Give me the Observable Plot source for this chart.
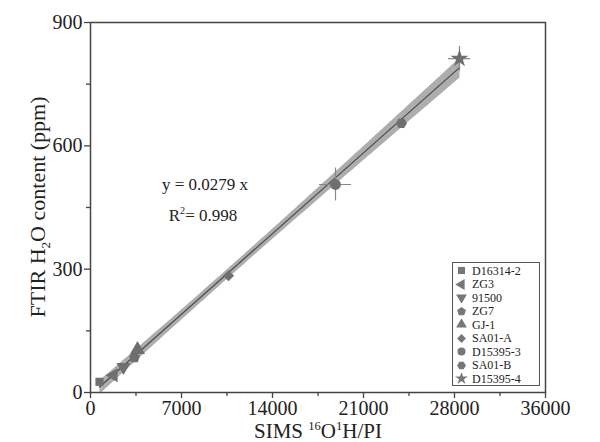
<!DOCTYPE html>
<html>
<head>
<meta charset="utf-8">
<script src="https://cdn.jsdelivr.net/npm/d3@7"></script>
<script src="https://cdn.jsdelivr.net/npm/@observablehq/plot@0.6"></script>
<style>
  html, body { margin: 0; padding: 0; background: #fff; }
  #wrap { position: relative; width: 600px; height: 442px; font-family: "Liberation Serif", "Times New Roman", serif; color: #222; }
  #wrap svg.plot { position: absolute; left: 0; top: 0; }
  .abs { position: absolute; white-space: nowrap; line-height: 1; }
  .ytitle { left: 38px; top: 207px; transform: translate(-50%, -50%) rotate(-90deg); font-size: 22px; }
  .xtitle { left: 318px; top: 421px; transform: translateX(-50%); font-size: 21px; }
  .eq { font-size: 17px; transform: translateX(-50%); }
  sub, sup { font-size: 60%; line-height: 0; }
  .legend { position: absolute; left: 452px; top: 262px; width: 88px; height: 124px; border: 1px solid #555; background: #fff; box-sizing: border-box; padding-top: 1px; }
  .legend .row { display: flex; align-items: center; height: 13.5px; font-size: 12px; line-height: 1; }
  .legend svg { width: 13px; height: 11px; margin-left: 2px; margin-right: 4px; flex: none; }
</style>
</head>
<body>
<div id="wrap"></div>
<script>
// ---- data ----
const samples = ["D16314-2", "ZG3", "91500", "ZG7", "GJ-1", "SA01-A", "D15395-3", "SA01-B", "D15395-4"];
const simsValues = [710, 1820, 2610, 3480, 3720, 10920, 19385, 24600, 29195];
const ftirValues = [26, 42, 62, 85, 104, 284, 506, 655, 812];
const simsErrors = [0, 0, 0, 0, 0, 0, 1270, 0, 870];
const ftirErrors = [0, 0, 0, 0, 0, 0, 40, 0, 30];
const xTickValues = [0, 7200, 14400, 21600, 28800, 36000];
const xTickLabels = ["0", "7000", "14000", "21000", "28000", "36000"];
const xMinorTicks = [3600, 10800, 18000, 25200, 32400];
const yTickValues = [0, 300, 600, 900];
const yMinorTicks = [150, 450, 750];
const equationLines = ["y = 0.0279 x", "R<sup>2</sup>= 0.998"];

// ---- custom symbols ----
function polygon(n, angle0) {
  return {
    draw(ctx, size) {
      const R = Math.sqrt(size / (n / 2 * Math.sin(2 * Math.PI / n)));
      for (let i = 0; i < n; i++) {
        const a = angle0 + i * 2 * Math.PI / n;
        const x = R * Math.cos(a), y = R * Math.sin(a);
        if (i === 0) ctx.moveTo(x, y); else ctx.lineTo(x, y);
      }
      ctx.closePath();
    }
  };
}
const symbolMap = [
  d3.symbolSquare,
  polygon(3, Math.PI),          // left triangle
  polygon(3, Math.PI / 2),      // down triangle
  polygon(5, -Math.PI / 2),     // pentagon
  polygon(3, -Math.PI / 2),     // up triangle
  d3.symbolDiamond2,
  d3.symbolCircle,
  polygon(6, 0),                // hexagon
  d3.symbolStar
];
const symbolSizes = [4.6, 5.2, 5.2, 5, 5.6, 5, 5.4, 5, 5.6];

const data = samples.map((s, i) => ({
  sample: s, x: simsValues[i], y: ftirValues[i],
  xe: simsErrors[i], ye: ftirErrors[i], r: symbolSizes[i]
}));
const errData = data.filter(d => d.xe > 0 || d.ye > 0);

const markFill = "#6f6f6f";
const axisColor = "#444";
const font = "'Liberation Serif', 'Times New Roman', serif";

const chart = Plot.plot({
  width: 600,
  height: 442,
  marginLeft: 90,
  marginRight: 55,
  marginTop: 22,
  marginBottom: 50,
  style: { fontFamily: font, fontSize: "20px", color: "#222", background: "#fff" },
  x: { domain: [0, 36000], label: null },
  y: { domain: [0, 900], label: null },
  symbol: { domain: samples, range: symbolMap },
  r: { type: "identity" },
  marks: [
    Plot.linearRegressionY(data, { x: "x", y: "y", ci: 0.97, stroke: "#4a4a4a", strokeWidth: 1.2, fill: "#a4a4a4", fillOpacity: 0.9 }),
    Plot.ruleY(errData, { y: "y", x1: d => d.x - d.xe, x2: d => d.x + d.xe, stroke: "#888", strokeWidth: 1.2 }),
    Plot.ruleX(errData, { x: "x", y1: d => d.y - d.ye, y2: d => d.y + d.ye, stroke: "#888", strokeWidth: 1.2 }),
    Plot.dot(data, { x: "x", y: "y", symbol: "sample", r: "r", fill: markFill, stroke: "none" }),
    Plot.frame({ stroke: axisColor, strokeWidth: 1.5 }),
    Plot.axisX({ ticks: xTickValues, tickFormat: (d, i) => xTickLabels[i], tickSize: 6, tickPadding: 2, stroke: axisColor, strokeWidth: 1.3, fontSize: 20, fontFamily: font }),
    Plot.axisX({ ticks: xMinorTicks, text: null, tickSize: 4, stroke: axisColor, strokeWidth: 1.3 }),
    Plot.axisY({ ticks: yTickValues, tickSize: 6, tickPadding: 2, stroke: axisColor, strokeWidth: 1.3, fontSize: 20, fontFamily: font }),
    Plot.axisY({ ticks: yMinorTicks, text: null, tickSize: 4, stroke: axisColor, strokeWidth: 1.3 })
  ]
});
chart.classList.add("plot");

const wrap = document.getElementById("wrap");
wrap.appendChild(chart);

function addDiv(cls, html, style) {
  const d = document.createElement("div");
  d.className = "abs " + cls;
  d.innerHTML = html;
  if (style) Object.assign(d.style, style);
  wrap.appendChild(d);
  return d;
}
addDiv("ytitle", "FTIR H<sub>2</sub>O content (ppm)");
addDiv("xtitle", "SIMS <sup>16</sup>O<sup>1</sup>H/PI");
addDiv("eq", equationLines[0], { left: "205px", top: "176px" });
addDiv("eq", equationLines[1], { left: "203px", top: "207px" });

// legend
const legend = document.createElement("div");
legend.className = "legend";
samples.forEach((s, i) => {
  const row = document.createElement("div");
  row.className = "row";
  const svg = d3.create("svg").attr("viewBox", "-6.5 -5.5 13 11");
  svg.append("path").attr("d", d3.symbol(symbolMap[i], Math.PI * 4 * 4)()).attr("fill", "#777");
  row.appendChild(svg.node());
  const t = document.createElement("span");
  t.textContent = s;
  row.appendChild(t);
  legend.appendChild(row);
});
wrap.appendChild(legend);
</script>
</body>
</html>
